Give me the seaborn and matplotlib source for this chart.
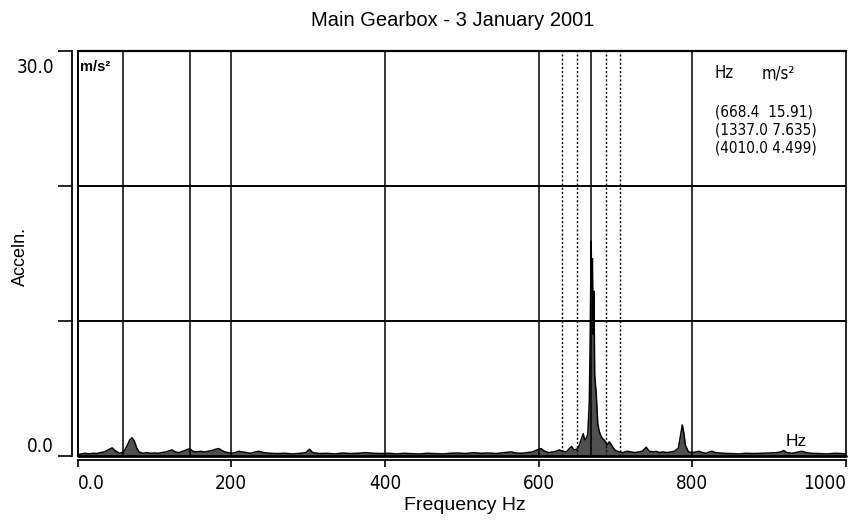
import numpy as np
import pandas as pd
import matplotlib
matplotlib.use("Agg")
import matplotlib.pyplot as plt
import matplotlib.transforms as mtransforms
from matplotlib import font_manager
import seaborn as sns

sns.set_theme(style="white")
plt.rcParams['font.family'] = ['Liberation Sans', 'DejaVu Sans']

# narrow font for the plotter-style numbers, if there is one
condensed = [f.name for f in font_manager.fontManager.ttflist
             if f.stretch in ('condensed', 'semi-condensed', 'extra-condensed') and f.style == 'normal']
if condensed:
    num_font, num_stretch, tick_size, row_size = condensed[0], 'condensed', 13.5, 11
else:
    num_font, num_stretch, tick_size, row_size = 'DejaVu Sans Mono', 'normal', 12, 9.8

# spectrum (Hz, m/s^2)
freq = [0, 5, 10, 15, 20, 25, 30, 35, 40, 45, 50, 55, 60, 65, 68, 71, 74, 77, 80, 85,
        90, 95, 100, 105, 110, 115, 120, 123, 127, 132, 137, 142, 146, 150, 155, 160, 165, 170, 175, 180,
        184, 188, 192, 196, 200, 205, 210, 215, 220, 225, 230, 236, 242, 250, 260, 270, 280, 290, 297, 302,
        306, 315, 325, 335, 345, 355, 365, 375, 385, 395, 405, 415, 425, 435, 445, 455, 465, 475, 485, 495,
        505, 515, 525, 535, 545, 555, 565, 570, 578, 585, 592, 598, 603, 608, 613, 618, 623, 627, 631, 636,
        640, 643, 646, 650, 653, 656, 658, 660, 662, 664, 666, 667, 668, 668.4, 669, 670, 671, 672, 673, 675,
        677, 679, 681, 683, 685, 687, 689, 692, 694, 697, 700, 705, 710, 715, 720, 725, 730, 735, 740, 744,
        750, 753, 757, 762, 767, 772, 777, 782, 785, 787, 789, 791, 795, 800, 805, 809, 813, 818, 822, 826,
        830, 840, 850, 860, 870, 880, 890, 900, 910, 915, 919, 923, 930, 938, 943, 948, 955, 965, 975, 985,
        995, 1000]
accel = [0.10, 0.15, 0.20, 0.15, 0.20, 0.18, 0.25, 0.30, 0.45, 0.60, 0.35, 0.20, 0.30, 0.80, 1.20, 1.35, 1.10, 0.60, 0.30, 0.20,
         0.25, 0.20, 0.22, 0.20, 0.25, 0.30, 0.40, 0.45, 0.30, 0.25, 0.35, 0.45, 0.55, 0.35, 0.30, 0.35, 0.30, 0.35, 0.40, 0.50,
         0.55, 0.40, 0.30, 0.25, 0.20, 0.25, 0.35, 0.30, 0.25, 0.20, 0.28, 0.35, 0.25, 0.20, 0.18, 0.20, 0.15, 0.20, 0.25, 0.50,
         0.25, 0.18, 0.20, 0.15, 0.22, 0.18, 0.20, 0.25, 0.20, 0.18, 0.20, 0.15, 0.20, 0.17, 0.15, 0.20, 0.18, 0.15, 0.20, 0.22,
         0.18, 0.25, 0.20, 0.22, 0.18, 0.25, 0.30, 0.22, 0.20, 0.25, 0.30, 0.45, 0.55, 0.35, 0.25, 0.30, 0.35, 0.45, 0.35, 0.30,
         0.55, 0.70, 0.45, 0.50, 0.80, 1.30, 1.65, 1.20, 1.30, 1.60, 4.00, 8.00, 14.0, 15.91, 12.5, 14.6, 9.00, 12.2, 6.00, 4.60,
         2.40, 1.80, 1.50, 1.30, 1.20, 1.05, 0.80, 1.05, 0.90, 0.60, 0.40, 0.30, 0.25, 0.35, 0.30, 0.25, 0.30, 0.35, 0.65, 0.35,
         0.30, 0.35, 0.25, 0.30, 0.25, 0.30, 0.35, 0.60, 1.60, 2.30, 1.70, 0.80, 0.30, 0.25, 0.30, 0.35, 0.25, 0.20, 0.30, 0.35,
         0.25, 0.20, 0.18, 0.15, 0.20, 0.18, 0.20, 0.22, 0.25, 0.30, 0.40, 0.25, 0.20, 0.30, 0.35, 0.25, 0.20, 0.18, 0.15, 0.20,
         0.18, 0.15]

solid_marks = [59, 146, 200, 400, 600, 668.4, 800]
dotted_marks = [630.4, 649.4, 687.4, 706.4]
h_lines = [10, 20]

x_ticks = [0, 200, 400, 600, 800, 1000]
x_ticklabels = ['0.0', '200', '400', '600', '800', '1000']
y_ticks = [0, 10, 20, 30]
y_ticklabels = ['0.0', '', '', '30.0']

peak_header = ['Hz', 'm/s²']
peak_rows = ['(668.4  15.91)', '(1337.0 7.635)', '(4010.0 4.499)']

df = pd.DataFrame({'freq': freq, 'accel': accel})

W, H = 849, 520
fig = plt.figure(figsize=(W / 100, H / 100), dpi=100)
ax = fig.add_axes([77.5 / W, 1 - 456 / H, (846 - 77.5) / W, (456 - 50.7) / H])

ax.fill_between(df['freq'], 0, df['accel'], color='#505050', lw=0)
sns.lineplot(data=df, x='freq', y='accel', ax=ax, color='black', lw=1.1, sort=False)

for f in solid_marks:
    ax.axvline(f, color='black', lw=1.1)
for f in dotted_marks:
    ax.axvline(f, color='black', lw=1.0, ls=(0, (1.5, 1.5)))
for v in h_lines:
    ax.axhline(v, color='black', lw=1.4)

# frame around the plot area
ax.axhline(0, color='black', lw=2.0, clip_on=False)
ax.axhline(30, color='black', lw=1.6, clip_on=False)
ax.axvline(0, color='black', lw=1.4, clip_on=False)
ax.axvline(1000, color='black', lw=1.2, clip_on=False)

ax.set_xlim(0, 1000)
ax.set_ylim(0, 30)

for s in ['top', 'right']:
    ax.spines[s].set_visible(False)
ax.spines['left'].set_position(('outward', 4))
ax.spines['bottom'].set_position(('outward', 3))
for s in ['left', 'bottom']:
    ax.spines[s].set_color('black')
    ax.spines[s].set_linewidth(1.3)

ax.set_xticks(x_ticks)
ax.set_xticklabels(x_ticklabels)
ax.set_yticks(y_ticks)
ax.set_yticklabels(y_ticklabels)
ax.tick_params(axis='x', bottom=True, direction='out', length=5, width=1.2, color='black',
               pad=5, labelsize=tick_size, labelcolor='black')
ax.tick_params(axis='y', left=True, direction='out', length=10, width=1.2, color='black',
               pad=3, labelsize=tick_size, labelcolor='black')
for lab in ax.get_xticklabels() + ax.get_yticklabels():
    lab.set_family(num_font)
    lab.set_stretch(num_stretch)

ax.set_xlabel('')
ax.set_ylabel('')

xl = ax.get_xticklabels()
xl[0].set_ha('left')
xl[-1].set_ha('right')
yl = ax.get_yticklabels()
yl[0].set_va('bottom')
yl[-1].set_va('top')
yl[-1].set_transform(yl[-1].get_transform() +
                     mtransforms.ScaledTranslation(0, -0.07, fig.dpi_scale_trans))

fig.text(453 / W, 1 - 21 / H, 'Main Gearbox - 3 January 2001', ha='center', va='center',
         fontsize=14.5, color='black')
fig.text(20 / W, 1 - 257 / H, 'Acceln.', rotation=90, ha='center', va='center',
         fontsize=13, color='black')
fig.text(465 / W, 1 - 506 / H, 'Frequency Hz', ha='center', va='center',
         fontsize=14, color='black')

fig.text(80 / W, 1 - 67 / H, 'm/s²', ha='left', va='center', fontsize=10.5,
         weight='bold', color='black')
fig.text(796 / W, 1 - 441 / H, 'Hz', ha='center', va='center', fontsize=12.5, color='black')

fig.text(715 / W, 1 - 73 / H, peak_header[0], ha='left', va='center', fontsize=row_size + 1,
         family=num_font, stretch=num_stretch, color='black')
fig.text(762 / W, 1 - 73 / H, peak_header[1], ha='left', va='center', fontsize=row_size + 1,
         family=num_font, stretch=num_stretch, color='black')
for i, row in enumerate(peak_rows):
    fig.text(715 / W, 1 - (112 + 18 * i) / H, row, ha='left', va='center', fontsize=row_size,
             family=num_font, stretch=num_stretch, color='black')

fig.savefig('out.png', dpi=100, facecolor='white')
